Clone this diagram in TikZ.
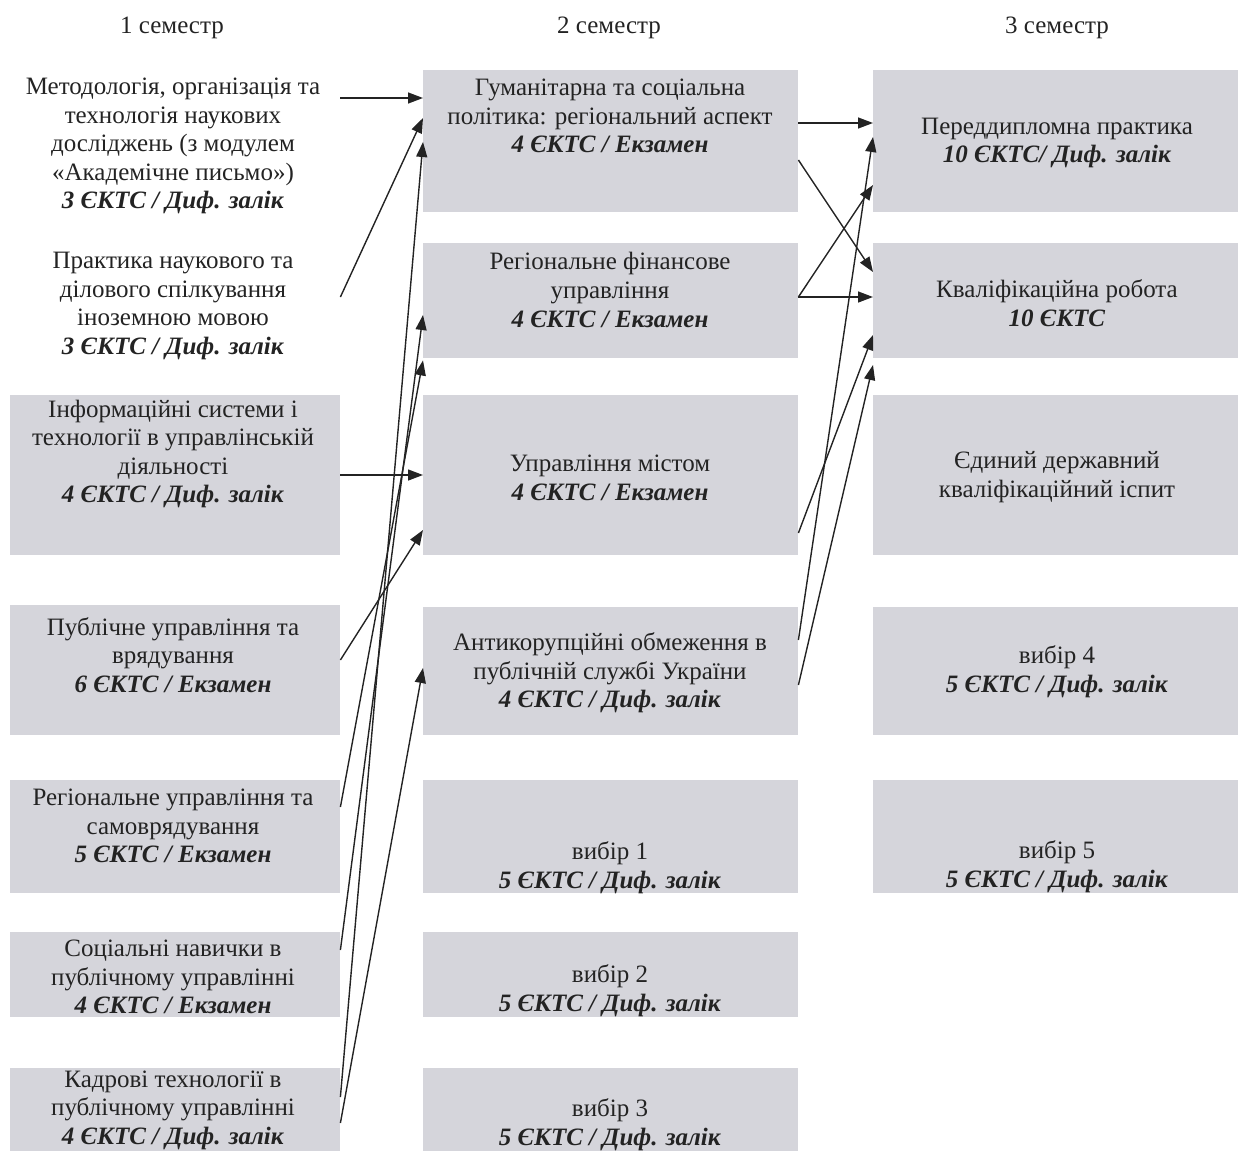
\documentclass[tikz,border=0pt]{standalone}
\usepackage{fontspec}
\setmainfont{Liberation Serif}
\usetikzlibrary{arrows.meta}
\definecolor{boxgray}{RGB}{213,213,219}
\definecolor{ink}{RGB}{35,35,35}
\newcommand{\ects}[1]{\textbf{\textit{#1}}}
\begin{document}
\begin{tikzpicture}[x=1pt,y=-1pt,
  cbox/.style={fill=boxgray, draw=none, anchor=north west, inner sep=0pt},
  wbox/.style={draw=none, anchor=north west, inner sep=0pt},
  txt/.style={align=center, font=\fontsize{25}{28.6}\selectfont, text=ink, inner sep=0pt},
  conn/.style={draw=ink, line width=1.4pt, -{Triangle[length=15pt,width=11pt]}}]
\useasboundingbox (0,0) rectangle (1238,1151);
% column 1 boxes
\node[wbox, minimum width=330pt, minimum height=145pt] (a1) at (10,70) {};
\node[wbox, minimum width=330pt, minimum height=115pt] (a2) at (10,245) {};
\node[cbox, minimum width=330pt, minimum height=160pt] (a3) at (10,395) {};
\node[cbox, minimum width=330pt, minimum height=130pt] (a4) at (10,605) {};
\node[cbox, minimum width=330pt, minimum height=113pt] (a5) at (10,780) {};
\node[cbox, minimum width=330pt, minimum height=85pt] (a6) at (10,932) {};
\node[cbox, minimum width=330pt, minimum height=83pt] (a7) at (10,1068) {};
% column 2 boxes
\node[cbox, minimum width=375pt, minimum height=142pt] (b1) at (423,70) {};
\node[cbox, minimum width=375pt, minimum height=115pt] (b2) at (423,243) {};
\node[cbox, minimum width=375pt, minimum height=160pt] (b3) at (423,395) {};
\node[cbox, minimum width=375pt, minimum height=128pt] (b4) at (423,607) {};
\node[cbox, minimum width=375pt, minimum height=113pt] (b5) at (423,780) {};
\node[cbox, minimum width=375pt, minimum height=85pt] (b6) at (423,932) {};
\node[cbox, minimum width=375pt, minimum height=83pt] (b7) at (423,1068) {};
% column 3 boxes
\node[cbox, minimum width=365pt, minimum height=142pt] (c1) at (873,70) {};
\node[cbox, minimum width=365pt, minimum height=115pt] (c2) at (873,243) {};
\node[cbox, minimum width=365pt, minimum height=160pt] (c3) at (873,395) {};
\node[cbox, minimum width=365pt, minimum height=128pt] (c4) at (873,607) {};
\node[cbox, minimum width=365pt, minimum height=113pt] (c5) at (873,780) {};
% headings
\node[txt] (h1) at (172,28) {1 семестр};
\node[txt] (h2) at (609,28) {2 семестр};
\node[txt] (h3) at (1057,28) {3 семестр};
% column 1 texts
\node[txt] (ta1) at (173,146) {Методологія, організація та\\технологія наукових\\досліджень (з модулем\\«Академічне письмо»)\\\ects{3 ЄКТС / Диф. залік}};
\node[txt] (ta2) at (173,306) {Практика наукового та\\ділового спілкування\\іноземною мовою\\\ects{3 ЄКТС / Диф. залік}};
\node[txt] (ta3) at (173,454) {Інформаційні системи і\\технології в управлінській\\діяльності\\\ects{4 ЄКТС / Диф. залік}};
\node[txt] (ta4) at (173,655) {Публічне управління та\\врядування\\\ects{6 ЄКТС / Екзамен}};
\node[txt] (ta5) at (173,826) {Регіональне управління та\\самоврядування\\\ects{5 ЄКТС / Екзамен}};
\node[txt] (ta6) at (173,977) {Соціальні навички в\\публічному управлінні\\\ects{4 ЄКТС / Екзамен}};
\node[txt] (ta7) at (173,1110) {Кадрові технології в\\публічному управлінні\\\ects{4 ЄКТС / Диф. залік}};
% column 2 texts
\node[txt] (tb1) at (610,116) {Гуманітарна та соціальна\\політика: регіональний аспект\\\ects{4 ЄКТС / Екзамен}};
\node[txt] (tb2) at (610,290) {Регіональне фінансове\\управління\\\ects{4 ЄКТС / Екзамен}};
\node[txt] (tb3) at (610,478) {Управління містом\\\ects{4 ЄКТС / Екзамен}};
\node[txt] (tb4) at (610,673) {Антикорупційні обмеження в\\публічній службі України\\\ects{4 ЄКТС / Диф. залік}};
\node[txt] (tb5) at (610,868) {вибір 1\\\ects{5 ЄКТС / Диф. залік}};
\node[txt] (tb6) at (610,991) {вибір 2\\\ects{5 ЄКТС / Диф. залік}};
\node[txt] (tb7) at (610,1125) {вибір 3\\\ects{5 ЄКТС / Диф. залік}};
% column 3 texts
\node[txt] (tc1) at (1057,143) {Переддипломна практика\\\ects{10 ЄКТС/ Диф. залік}};
\node[txt] (tc2) at (1057,303) {Кваліфікаційна робота\\\ects{10 ЄКТС}};
\node[txt] (tc3) at (1057,477) {Єдиний державний\\кваліфікаційний іспит};
\node[txt] (tc4) at (1057,672) {вибір 4\\\ects{5 ЄКТС / Диф. залік}};
\node[txt] (tc5) at (1057,867) {вибір 5\\\ects{5 ЄКТС / Диф. залік}};
% connectors column 1 -> column 2
\draw[conn] ([yshift=-28pt]a1.north east) -- ([yshift=-28pt]b1.north west);
\draw[conn] ([yshift=-52pt]a2.north east) -- ([yshift=-48pt]b1.north west);
\draw[conn] ([yshift=-29pt]a7.north east) -- ([yshift=-72pt]b1.north west);
\draw[conn] ([yshift=-18pt]a6.north east) -- ([yshift=-72pt]b2.north west);
\draw[conn] ([yshift=-27pt]a5.north east) -- ([yshift=-2pt]b2.south west);
\draw[conn] ([yshift=-80pt]a3.north east) -- ([yshift=-80pt]b3.north west);
\draw[conn] ([yshift=-55pt]a4.north east) -- ([yshift=-135pt]b3.north west);
\draw[conn] ([yshift=-55pt]a7.north east) -- ([yshift=-61pt]b4.north west);
% connectors column 2 -> column 3
\draw[conn] ([yshift=-53pt]b1.north east) -- ([yshift=-53pt]c1.north west);
\draw[conn] ([yshift=-90pt]b1.north east) -- ([yshift=-29pt]c2.north west);
\draw[conn] ([yshift=-54pt]b2.north east) -- ([yshift=-115pt]c1.north west);
\draw[conn] ([yshift=-54pt]b2.north east) -- ([yshift=-54pt]c2.north west);
\draw[conn] ([yshift=-33pt]b4.north east) -- ([yshift=-67pt]c1.north west);
\draw[conn] ([yshift=-138pt]b3.north east) -- ([yshift=-92pt]c2.north west);
\draw[conn] ([yshift=-78pt]b4.north east) -- ([yshift=-122pt]c2.north west);
\end{tikzpicture}
\end{document}
